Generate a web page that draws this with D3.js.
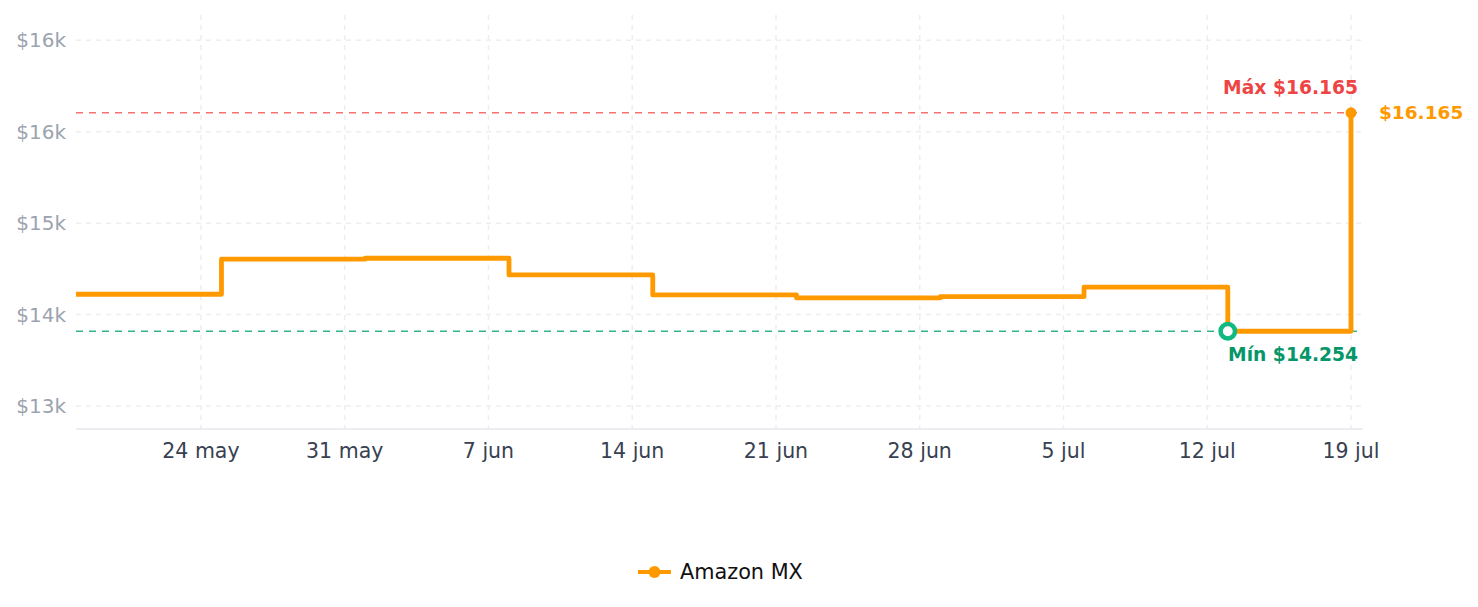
<!DOCTYPE html>
<html>
<head>
<meta charset="utf-8">
<script src="https://cdn.jsdelivr.net/npm/d3@7"></script>
<style>
  html, body { margin: 0; padding: 0; background: #fff; }
  svg { display: block; font-family: "DejaVu Sans", sans-serif; }
</style>
</head>
<body>
<svg id="chart" width="1478" height="607"></svg>
<script>
// ---- data ----
const dates = ["2025-05-17T22:00", "2025-05-25T00:00", "2025-06-01T00:00", "2025-06-08T00:00",
  "2025-06-15T00:00", "2025-06-22T00:00", "2025-06-29T00:00", "2025-07-06T00:00",
  "2025-07-13T00:00", "2025-07-19T00:00"];
const prices = [14578, 14885, 14893, 14747, 14572, 14546, 14557, 14640, 14254, 16165];
const seriesName = "Amazon MX";
const yTicks = [13600, 14400, 15200, 16000, 16800];
const yTickLabels = ["$13k", "$14k", "$15k", "$16k", "$16k"];
const xTicks = ["2025-05-24", "2025-05-31", "2025-06-07", "2025-06-14", "2025-06-21",
  "2025-06-28", "2025-07-05", "2025-07-12", "2025-07-19"];
const xTickLabels = ["24 may", "31 may", "7 jun", "14 jun", "21 jun", "28 jun", "5 jul", "12 jul", "19 jul"];
const maxLabel = "Máx $16.165";
const minLabel = "Mín $14.254";
const lastLabel = "$16.165";

(function () {
  const svg = d3.select("#chart");
  const mLeft = 76, mRight = 1363, mTop = 15, mBottom = 429;
  const parse = s => new Date(s);
  const data = dates.map((d, i) => ({ date: parse(d), value: prices[i] }));

  const x = d3.scaleTime()
    .domain([parse("2025-05-17T22:00"), parse("2025-07-19T14:00")])
    .range([mLeft, mRight]);
  const y = d3.scaleLinear()
    .domain([d3.min(prices) * 0.94, d3.max(prices) * 1.05])
    .range([mBottom, 20.5]);

  const xTickDates = xTicks.map(s => new Date(s + "T00:00"));

  // grid horizontal
  svg.append("g").selectAll("line").data(yTicks).join("line")
    .attr("x1", mLeft).attr("x2", mRight)
    .attr("y1", d => y(d)).attr("y2", d => y(d))
    .attr("stroke", "#eeeeee").attr("stroke-width", 1.5).attr("stroke-dasharray", "5,5");
  // grid vertical
  svg.append("g").selectAll("line").data(xTickDates).join("line")
    .attr("x1", d => x(d)).attr("x2", d => x(d))
    .attr("y1", mTop).attr("y2", mBottom)
    .attr("stroke", "#eeeeee").attr("stroke-width", 1.5).attr("stroke-dasharray", "5,5");

  // y labels
  svg.append("g").selectAll("text").data(yTicks).join("text")
    .attr("x", 66).attr("y", d => y(d)).attr("dy", "0.35em")
    .attr("text-anchor", "end").attr("fill", "#9ca3af").attr("font-size", 20)
    .text((d, i) => yTickLabels[i]);

  // x axis line
  svg.append("line").attr("x1", mLeft).attr("x2", mRight).attr("y1", mBottom).attr("y2", mBottom)
    .attr("stroke", "#e5e7eb").attr("stroke-width", 1.5);
  // x labels
  svg.append("g").selectAll("text").data(xTickDates).join("text")
    .attr("x", d => x(d)).attr("y", 458)
    .attr("text-anchor", "middle").attr("fill", "#374151").attr("font-size", 20.5)
    .text((d, i) => xTickLabels[i]);

  const maxV = d3.max(prices), minV = d3.min(prices);
  const maxD = data.find(d => d.value === maxV), minD = data.find(d => d.value === minV);

  // max / min reference lines
  svg.append("line").attr("x1", mLeft).attr("x2", mRight).attr("y1", y(maxV)).attr("y2", y(maxV))
    .attr("stroke", "#f87171").attr("stroke-width", 1.5).attr("stroke-dasharray", "7,6");
  svg.append("line").attr("x1", mLeft).attr("x2", mRight).attr("y1", y(minV)).attr("y2", y(minV))
    .attr("stroke", "#34b386").attr("stroke-width", 1.5).attr("stroke-dasharray", "7,6");

  // price line
  const line = d3.line().x(d => x(d.date)).y(d => y(d.value)).curve(d3.curveStepAfter);
  svg.append("path").datum(data).attr("d", line)
    .attr("fill", "none").attr("stroke", "#ff9900").attr("stroke-width", 4.8)
    .attr("stroke-linejoin", "round");

  // last point marker
  svg.append("circle").attr("cx", x(maxD.date)).attr("cy", y(maxV)).attr("r", 5.5).attr("fill", "#ff9900");
  // min marker
  svg.append("circle").attr("cx", x(minD.date)).attr("cy", y(minV)).attr("r", 7.2)
    .attr("fill", "#fff").attr("stroke", "#10b981").attr("stroke-width", 4.5);

  // annotations
  svg.append("text").attr("x", 1358).attr("y", y(maxV) - 19)
    .attr("text-anchor", "end").attr("fill", "#ef4444").attr("font-size", 18.7).attr("font-weight", "bold")
    .text(maxLabel);
  svg.append("text").attr("x", 1379).attr("y", y(maxV)).attr("dy", "0.35em")
    .attr("text-anchor", "start").attr("fill", "#ff9900").attr("font-size", 18.5).attr("font-weight", "bold")
    .text(lastLabel);
  svg.append("text").attr("x", 1358).attr("y", y(minV) + 30)
    .attr("text-anchor", "end").attr("fill", "#059669").attr("font-size", 18.7).attr("font-weight", "bold")
    .text(minLabel);

  // legend
  const lg = svg.append("g").attr("transform", "translate(638,572)");
  lg.append("line").attr("x1", 0).attr("x2", 33).attr("y1", 0).attr("y2", 0)
    .attr("stroke", "#ff9900").attr("stroke-width", 4);
  lg.append("circle").attr("cx", 16.5).attr("cy", 0).attr("r", 6).attr("fill", "#ff9900");
  lg.append("text").attr("x", 42).attr("y", 0).attr("dy", "0.35em")
    .attr("fill", "#111").attr("font-size", 20.8).text(seriesName);
})();
</script>
</body>
</html>
